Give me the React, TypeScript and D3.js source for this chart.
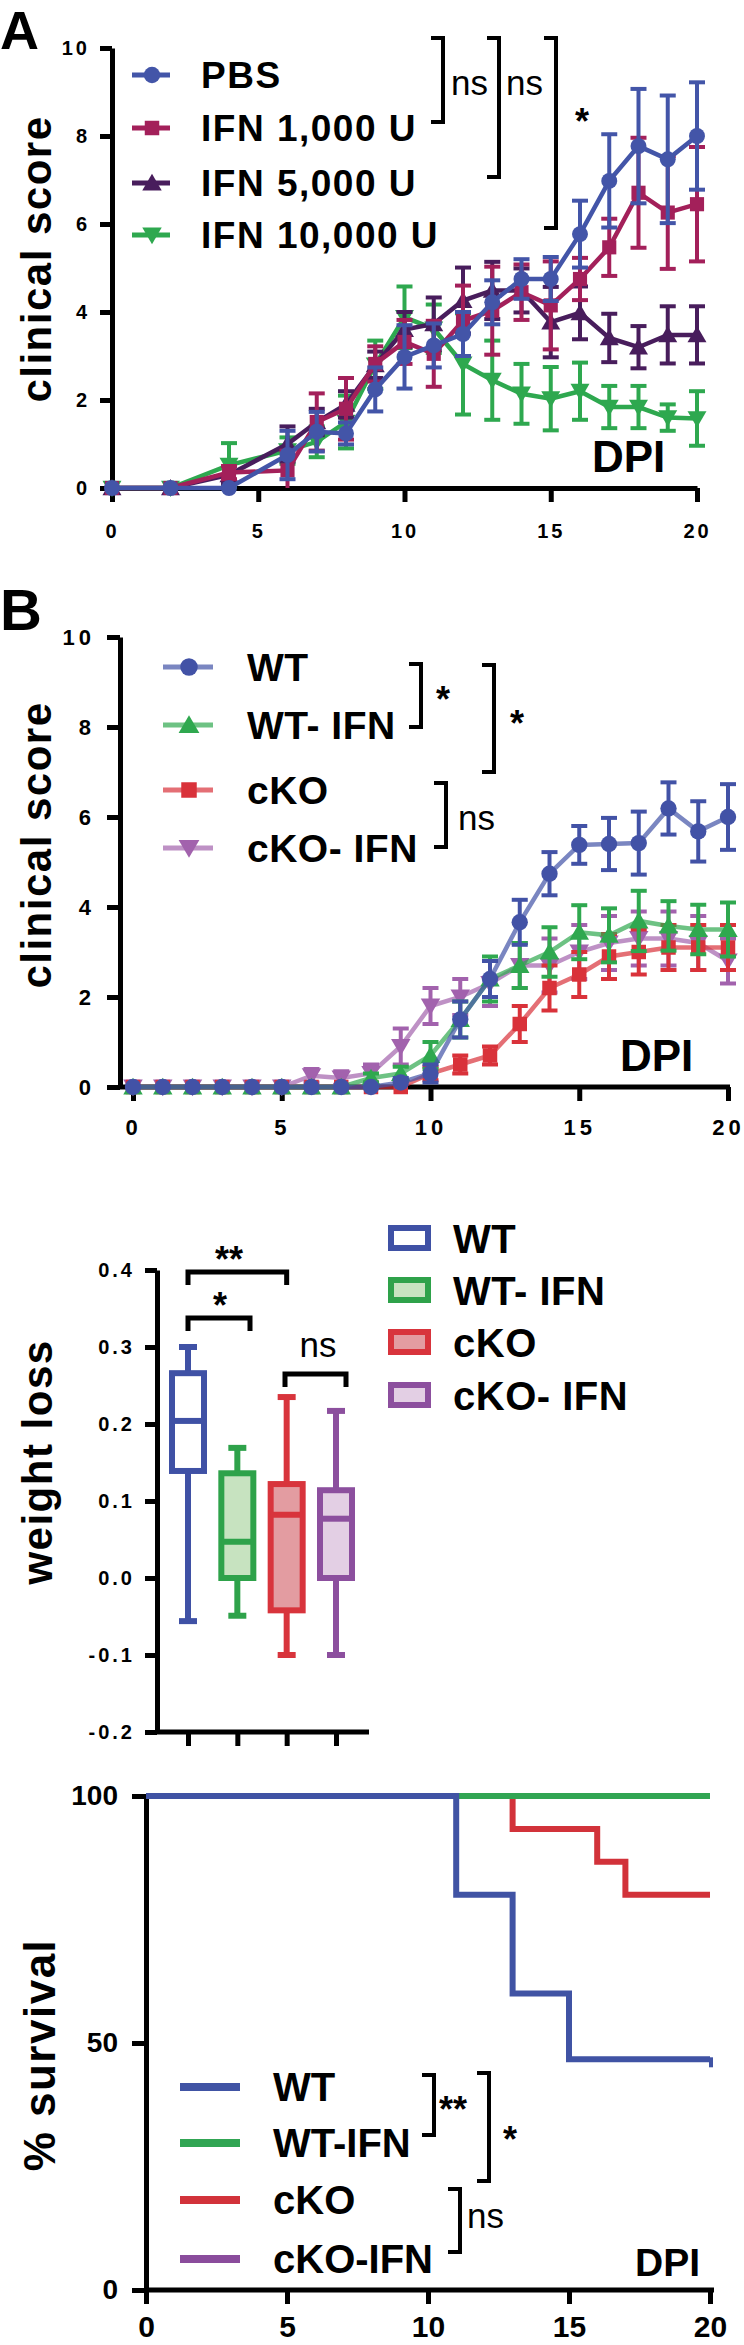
import React, { useRef, useEffect } from "react";
import * as d3 from "d3";

// ---- Panel A: clinical score, IFN doses ----
const daysA = [0, 2, 4, 6, 7, 8, 9, 10, 11, 12, 13, 14, 15, 16, 17, 18, 19, 20];
const pbsMean = [0, 0, 0, 0.75, 1.28, 1.24, 2.24, 2.98, 3.24, 3.5, 4.22, 4.75, 4.75, 5.77, 6.98, 7.77, 7.47, 8.0];
const pbsErr = [0, 0, 0, 0.55, 0.45, 0.25, 0.5, 0.72, 0.5, 0.5, 0.5, 0.45, 0.5, 0.76, 1.06, 1.3, 1.45, 1.22];
const ifn1Mean = [0, 0, 0.35, 0.4, 1.5, 1.8, 2.82, 3.32, 3.05, 3.8, 4.03, 4.45, 4.15, 4.75, 5.47, 6.71, 6.26, 6.45];
const ifn1Err = [0, 0, 0.15, 0.45, 0.65, 0.7, 0.4, 0.5, 0.75, 0.8, 1.0, 0.63, 1.0, 0.48, 0.65, 1.25, 1.28, 1.3];
const ifn5Mean = [0, 0, 0.3, 1.0, 1.5, 1.9, 2.8, 3.6, 3.73, 4.26, 4.49, 4.49, 3.77, 3.98, 3.41, 3.2, 3.48, 3.48];
const ifn5Err = [0, 0, 0.2, 0.4, 0.3, 0.3, 0.3, 0.4, 0.6, 0.75, 0.65, 0.5, 0.8, 0.6, 0.55, 0.48, 0.65, 0.65];
const ifn10Mean = [0, 0, 0.52, 0.85, 1.05, 1.5, 2.8, 3.88, 3.62, 2.82, 2.45, 2.14, 2.03, 2.2, 1.84, 1.84, 1.6, 1.58];
const ifn10Err = [0, 0, 0.5, 0.3, 0.35, 0.6, 0.55, 0.7, 0.55, 1.15, 0.9, 0.68, 0.72, 0.65, 0.48, 0.48, 0.3, 0.62];
const legendA = ["PBS", "IFN 1,000 U", "IFN 5,000 U", "IFN 10,000 U"];

// ---- Panel B: clinical score, genotypes ----
const daysB = d3.range(0, 21);
const wtMean = [0, 0, 0, 0, 0, 0, 0, 0, 0, 0.1, 0.3, 1.5, 2.4, 3.66, 4.74, 5.38, 5.4, 5.42, 6.19, 5.68, 6.0];
const wtErr = [0, 0, 0, 0, 0, 0, 0, 0, 0, 0.1, 0.2, 0.4, 0.4, 0.5, 0.48, 0.42, 0.58, 0.7, 0.58, 0.67, 0.73];
const wtIfnMean = [0, 0, 0, 0, 0, 0, 0, 0, 0.2, 0.3, 0.7, 1.5, 2.4, 2.7, 3.0, 3.44, 3.37, 3.69, 3.58, 3.5, 3.5];
const wtIfnErr = [0, 0, 0, 0, 0, 0, 0, 0, 0.1, 0.15, 0.3, 0.4, 0.5, 0.5, 0.55, 0.6, 0.6, 0.67, 0.55, 0.55, 0.6];
const koMean = [0, 0, 0, 0, 0, 0, 0, 0, 0, 0, 0.3, 0.5, 0.7, 1.4, 2.2, 2.5, 2.9, 3.0, 3.1, 3.1, 3.1];
const koErr = [0, 0, 0, 0, 0, 0, 0, 0, 0, 0, 0.15, 0.2, 0.2, 0.4, 0.5, 0.5, 0.5, 0.5, 0.5, 0.5, 0.5];
const koIfnMean = [0, 0, 0, 0, 0, 0, 0.25, 0.2, 0.3, 0.9, 1.8, 2.0, 2.3, 2.7, 2.7, 3.0, 3.2, 3.3, 3.3, 3.2, 2.8];
const koIfnErr = [0, 0, 0, 0, 0, 0, 0.15, 0.15, 0.2, 0.4, 0.4, 0.4, 0.5, 0.5, 0.6, 0.6, 0.6, 0.6, 0.6, 0.6, 0.5];
const legendB = ["WT", "WT- IFN", "cKO", "cKO- IFN"];

// ---- weight loss box plot ----
const boxGroups = ["WT", "WT- IFN", "cKO", "cKO- IFN"];
const boxMin = [-0.056, -0.049, -0.1, -0.1];
const boxQ1 = [0.139, 0.0, -0.042, 0.0];
const boxMedian = [0.204, 0.047, 0.082, 0.077];
const boxQ3 = [0.266, 0.136, 0.122, 0.114];
const boxMax = [0.3, 0.169, 0.235, 0.217];
const weightTicks = [-0.2, -0.1, 0.0, 0.1, 0.2, 0.3, 0.4];

// ---- survival ----
const survLabels = ["WT", "WT-IFN", "cKO", "cKO-IFN"];
const wtSurvDays = [0, 11, 13, 15, 20];
const wtSurv = [100, 80, 60, 46.7, 46.7];
const wtIfnSurvDays = [0, 20];
const wtIfnSurv = [100, 100];
const koSurvDays = [0, 13, 16, 17, 20];
const koSurv = [100, 93.3, 86.7, 80, 80];
const koIfnSurvDays = [0, 20];
const koIfnSurv = [100, 100];

const FONT = "'Liberation Sans', Arial, sans-serif";

export default function App() {
  const ref = useRef<SVGSVGElement>(null);

  useEffect(() => {
    const svg = d3.select(ref.current);
    svg.selectAll("*").remove();
    svg.attr("font-family", FONT);

    const triDown = {
      draw(ctx: any, size: number) {
        const h = Math.sqrt(size * 1.3);
        ctx.moveTo(-h / 1.7, -h / 2.2);
        ctx.lineTo(h / 1.7, -h / 2.2);
        ctx.lineTo(0, h / 1.8);
        ctx.closePath();
      },
    };
    const triUp = {
      draw(ctx: any, size: number) {
        const h = Math.sqrt(size * 1.3);
        ctx.moveTo(-h / 1.7, h / 2.2);
        ctx.lineTo(h / 1.7, h / 2.2);
        ctx.lineTo(0, -h / 1.8);
        ctx.closePath();
      },
    };

    const bracket = (x: number, y1: number, y2: number, arm = 12) => {
      svg.append("path")
        .attr("d", `M${x - arm},${y1}H${x}V${y2}H${x - arm}`)
        .attr("fill", "none").attr("stroke", "#000").attr("stroke-width", 4);
    };
    const hbracket = (x1: number, x2: number, y: number, leg = 13) => {
      svg.append("path")
        .attr("d", `M${x1},${y + leg}V${y}H${x2}V${y + leg}`)
        .attr("fill", "none").attr("stroke", "#000").attr("stroke-width", 5);
    };
    const label = (t: string, x: number, y: number, size: number, weight = "bold", anchor = "start", spacing = 0) => {
      svg.append("text").attr("x", x).attr("y", y).text(t)
        .attr("font-size", size).attr("font-weight", weight)
        .attr("text-anchor", anchor).attr("letter-spacing", spacing);
    };
    const vlabel = (t: string, x: number, y: number, size: number) => {
      svg.append("text").attr("transform", `translate(${x},${y}) rotate(-90)`)
        .attr("text-anchor", "middle").attr("font-size", size).attr("font-weight", "bold")
        .attr("letter-spacing", 1.5).text(t);
    };

    const styleAxis = (g: any, size: number, spacing: number) => {
      g.select(".domain").attr("stroke-width", 5);
      g.selectAll(".tick line").attr("stroke-width", 5);
      g.selectAll(".tick text").attr("font-size", size).attr("font-weight", "bold")
        .attr("letter-spacing", spacing).attr("font-family", FONT).attr("fill", "#000");
    };

    const drawSeries = (x: any, y: any, days: number[], mean: number[], err: number[],
      color: string, symType: any, symSize: number, lineOpacity = 1) => {
      const g = svg.append("g");
      const pts = days.map((d, i) => ({ d, m: mean[i], e: err[i] }));
      const eb = pts.filter(p => p.e > 0);
      g.selectAll("line.bar").data(eb).join("line")
        .attr("x1", p => x(p.d)).attr("x2", p => x(p.d))
        .attr("y1", p => y(p.m + p.e)).attr("y2", p => y(Math.max(0, p.m - p.e)))
        .attr("stroke", color).attr("stroke-width", 4);
      [1, -1].forEach(s => {
        g.selectAll(`line.cap${s}`).data(eb.filter(p => s > 0 || p.m - p.e > 0)).join("line")
          .attr("x1", p => x(p.d) - 8).attr("x2", p => x(p.d) + 8)
          .attr("y1", p => y(p.m + s * p.e)).attr("y2", p => y(p.m + s * p.e))
          .attr("stroke", color).attr("stroke-width", 4);
      });
      g.append("path").datum(pts)
        .attr("d", d3.line<any>().x(p => x(p.d)).y(p => y(p.m)))
        .attr("fill", "none").attr("stroke", color).attr("stroke-width", 4.5)
        .attr("stroke-opacity", lineOpacity);
      g.selectAll("path.sym").data(pts).join("path")
        .attr("transform", p => `translate(${x(p.d)},${y(p.m)})`)
        .attr("d", d3.symbol().type(symType).size(symSize)())
        .attr("fill", color);
    };

    // ================= Panel A =================
    label("A", 0, 49, 54);
    const xA = d3.scaleLinear().domain([0, 20]).range([112, 697]);
    const yA = d3.scaleLinear().domain([0, 10]).range([488, 48]);
    const gxA = svg.append("g").attr("transform", `translate(0,${yA(0)})`)
      .call(d3.axisBottom(xA).tickValues([0, 5, 10, 15, 20]).tickSize(14).tickSizeOuter(0).tickPadding(22));
    styleAxis(gxA, 20, 3);
    const gyA = svg.append("g").attr("transform", `translate(${xA(0)},0)`)
      .call(d3.axisLeft(yA).tickValues([0, 2, 4, 6, 8, 10]).tickSize(12).tickSizeOuter(0).tickPadding(10));
    styleAxis(gyA, 20, 3);
    vlabel("clinical score", 51, 259, 42);
    label("DPI", 592, 472, 44);

    const colA = ["#4355a8", "#a3205a", "#481d5c", "#2ea84f"];
    const symA = [d3.symbolCircle, d3.symbolSquare, triUp, triDown];
    const meansA = [pbsMean, ifn1Mean, ifn5Mean, ifn10Mean];
    const errsA = [pbsErr, ifn1Err, ifn5Err, ifn10Err];
    [3, 2, 1, 0].forEach(i => drawSeries(xA, yA, daysA, meansA[i], errsA[i], colA[i], symA[i], 200));

    const rowsA = [75, 128, 183, 235];
    legendA.forEach((t, i) => {
      svg.append("line").attr("x1", 132).attr("x2", 170).attr("y1", rowsA[i]).attr("y2", rowsA[i])
        .attr("stroke", colA[i]).attr("stroke-width", 5);
      svg.append("path").attr("transform", `translate(152,${rowsA[i]})`)
        .attr("d", d3.symbol().type(symA[i]).size(210)()).attr("fill", colA[i]);
      label(t, 201, rowsA[i] + 13, 37, "bold", "start", 1.5);
    });
    bracket(443, 38, 122);
    label("ns", 451, 95, 35, "normal");
    bracket(499, 38, 177);
    label("ns", 506, 95, 35, "normal");
    bracket(556, 38, 228);
    label("*", 575, 134, 36);

    // ================= Panel B =================
    label("B", 0, 630, 58);
    const xB = d3.scaleLinear().domain([0, 20]).range([133, 728]);
    const yB = d3.scaleLinear().domain([0, 10]).range([1087, 637]);
    const gxB = svg.append("g").attr("transform", `translate(0,${yB(0)})`)
      .call(d3.axisBottom(xB).tickValues([0, 5, 10, 15, 20]).tickSize(14).tickSizeOuter(0).tickPadding(18));
    gxB.select(".domain").attr("d", `M120,0H${xB(20) + 2}`);
    styleAxis(gxB, 22, 4);
    const gyB = svg.append("g").attr("transform", `translate(120,0)`)
      .call(d3.axisLeft(yB).tickValues([0, 2, 4, 6, 8, 10]).tickSize(13).tickSizeOuter(0).tickPadding(12));
    styleAxis(gyB, 22, 4);
    vlabel("clinical score", 51, 845, 42);
    label("DPI", 620, 1071, 44);

    const colB = ["#4252a6", "#2fa84f", "#d9323a", "#a262ad"];
    const symB = [d3.symbolCircle, triUp, d3.symbolSquare, triDown];
    const meansB = [wtMean, wtIfnMean, koMean, koIfnMean];
    const errsB = [wtErr, wtIfnErr, koErr, koIfnErr];
    [3, 2, 1, 0].forEach(i => drawSeries(xB, yB, daysB, meansB[i], errsB[i], colB[i], symB[i], 210, 0.7));

    const rowsB = [667, 725, 790, 848];
    legendB.forEach((t, i) => {
      svg.append("line").attr("x1", 163).attr("x2", 213).attr("y1", rowsB[i]).attr("y2", rowsB[i])
        .attr("stroke", colB[i]).attr("stroke-width", 5).attr("stroke-opacity", 0.7);
      svg.append("path").attr("transform", `translate(189,${rowsB[i]})`)
        .attr("d", d3.symbol().type(symB[i]).size(240)()).attr("fill", colB[i]);
      label(t, 247, rowsB[i] + 14, 39, "bold", "start", 0.5);
    });
    bracket(421, 664, 727);
    label("*", 436, 712, 36);
    bracket(494, 665, 772);
    label("*", 510, 736, 36);
    bracket(446, 783, 847);
    label("ns", 458, 830, 35, "normal");

    // ================= weight loss =================
    const yW = d3.scaleLinear().domain([-0.2, 0.4]).range([1732, 1270]);
    const xW = d3.scalePoint().domain(boxGroups).range([188, 336]);
    const gxW = svg.append("g").attr("transform", `translate(0,${yW(-0.2)})`)
      .call(d3.axisBottom(xW).tickSize(14).tickSizeOuter(0).tickFormat(() => ""));
    gxW.select(".domain").attr("d", "M157,0H369");
    styleAxis(gxW, 20, 3);
    const gyW = svg.append("g").attr("transform", "translate(157,0)")
      .call(d3.axisLeft(yW).tickValues(weightTicks).tickSize(12).tickSizeOuter(0).tickPadding(10)
        .tickFormat(d3.format(".1f")));
    styleAxis(gyW, 20, 3);
    gyW.selectAll(".tick text").text((d: any) => d3.format(".1f")(d).replace("−", "-"));
    vlabel("weight loss", 52, 1462, 42);

    const boxStroke = ["#3f51a5", "#2ea24a", "#d8343c", "#8c4f9e"];
    const boxFill = ["#ffffff", "#c7e3c0", "#e39ca1", "#e3cfe4"];
    const bw = 32;
    boxGroups.forEach((gname, i) => {
      const cx = xW(gname) as number;
      const c = boxStroke[i];
      svg.append("line").attr("x1", cx).attr("x2", cx).attr("y1", yW(boxMax[i])).attr("y2", yW(boxQ3[i]))
        .attr("stroke", c).attr("stroke-width", 6);
      svg.append("line").attr("x1", cx).attr("x2", cx).attr("y1", yW(boxQ1[i])).attr("y2", yW(boxMin[i]))
        .attr("stroke", c).attr("stroke-width", 6);
      [boxMax[i], boxMin[i]].forEach(v => {
        svg.append("line").attr("x1", cx - 9).attr("x2", cx + 9).attr("y1", yW(v)).attr("y2", yW(v))
          .attr("stroke", c).attr("stroke-width", 6);
      });
      svg.append("rect").attr("x", cx - bw / 2).attr("width", bw)
        .attr("y", yW(boxQ3[i])).attr("height", yW(boxQ1[i]) - yW(boxQ3[i]))
        .attr("fill", boxFill[i]).attr("stroke", c).attr("stroke-width", 6);
      svg.append("line").attr("x1", cx - bw / 2).attr("x2", cx + bw / 2)
        .attr("y1", yW(boxMedian[i])).attr("y2", yW(boxMedian[i]))
        .attr("stroke", c).attr("stroke-width", 6);
    });
    hbracket(xW("WT") as number, xW("cKO") as number, 1272);
    label("**", 229, 1272, 36, "bold", "middle");
    hbracket(xW("WT") as number, 250, 1318);
    label("*", 220, 1318, 36, "bold", "middle");
    hbracket(285, 346, 1374);
    label("ns", 318, 1357, 35, "normal", "middle");

    const rowsW = [1238, 1290, 1342, 1395];
    boxGroups.forEach((t, i) => {
      svg.append("rect").attr("x", 391).attr("y", rowsW[i] - 10).attr("width", 37).attr("height", 20)
        .attr("fill", boxFill[i]).attr("stroke", boxStroke[i]).attr("stroke-width", 6);
      label(t, 453, rowsW[i] + 15, 40, "bold", "start", 0.5);
    });

    // ================= survival =================
    const xS = d3.scaleLinear().domain([0, 20]).range([146, 710]);
    const yS = d3.scaleLinear().domain([0, 100]).range([2290, 1796]);
    const gxS = svg.append("g").attr("transform", `translate(0,${yS(0)})`)
      .call(d3.axisBottom(xS).tickValues([0, 5, 10, 15, 20]).tickSize(14).tickSizeOuter(0).tickPadding(12));
    gxS.select(".domain").attr("d", `M${xS(0)},0H${xS(20) + 4}`);
    styleAxis(gxS, 30, 0);
    const gyS = svg.append("g").attr("transform", `translate(${xS(0)},0)`)
      .call(d3.axisLeft(yS).tickValues([0, 50, 100]).tickSize(14).tickSizeOuter(0).tickPadding(14));
    styleAxis(gyS, 28, 0);
    vlabel("% survival", 55, 2055, 44);
    label("DPI", 635, 2276, 39);

    const colS = ["#4053a4", "#31a553", "#d2323a", "#8a4c9c"];
    const survDays = [wtSurvDays, wtIfnSurvDays, koSurvDays, koIfnSurvDays];
    const survVals = [wtSurv, wtIfnSurv, koSurv, koIfnSurv];
    const step = d3.line<any>().curve(d3.curveStepAfter).x(p => xS(p[0])).y(p => yS(p[1]));
    [3, 2, 1, 0].forEach(i => {
      const pts = survDays[i].map((d, j) => [d, survVals[i][j]]);
      svg.append("path").datum(pts).attr("d", step).attr("fill", "none")
        .attr("stroke", colS[i]).attr("stroke-width", 6);
    });
    // censor tick at end of WT curve
    svg.append("line").attr("x1", xS(20) + 1).attr("x2", xS(20) + 1)
      .attr("y1", yS(wtSurv[wtSurv.length - 1]) - 2).attr("y2", yS(wtSurv[wtSurv.length - 1]) + 8)
      .attr("stroke", colS[0]).attr("stroke-width", 4);

    const rowsS = [2087, 2143, 2200, 2259];
    survLabels.forEach((t, i) => {
      svg.append("line").attr("x1", 180).attr("x2", 240).attr("y1", rowsS[i]).attr("y2", rowsS[i])
        .attr("stroke", colS[i]).attr("stroke-width", 8);
      label(t, 273, rowsS[i] + 14, 40, "bold", "start", 0);
    });
    bracket(434, 2075, 2135);
    label("**", 439, 2122, 36);
    bracket(489, 2073, 2181);
    label("*", 503, 2152, 36);
    bracket(460, 2189, 2252);
    label("ns", 467, 2228, 35, "normal");
  }, []);

  return (
    <svg
      ref={ref}
      width={744}
      height={2345}
      style={{ position: "absolute", left: 0, top: 0, background: "#fff" }}
    />
  );
}
